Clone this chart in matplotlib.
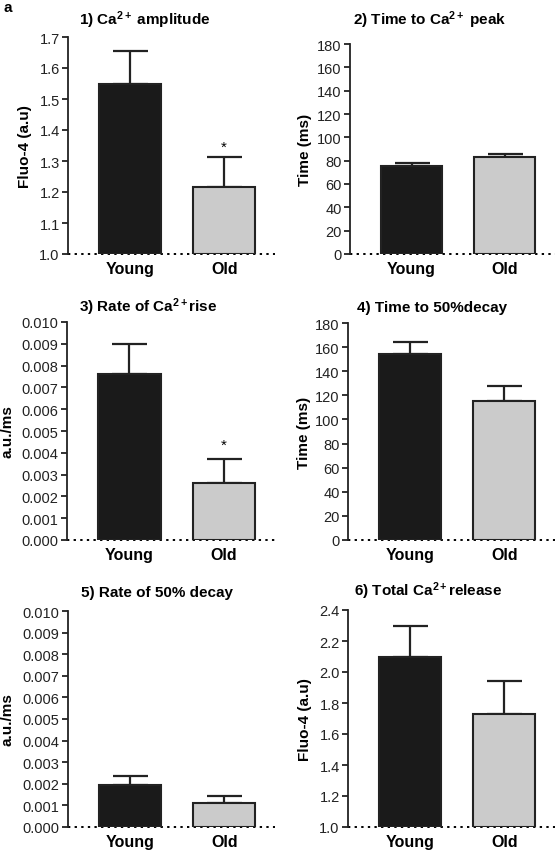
import matplotlib
matplotlib.use("Agg")
import matplotlib.pyplot as plt

plt.rcParams['font.family'] = ['Liberation Sans', 'DejaVu Sans']
plt.rcParams['mathtext.fontset'] = 'custom'
plt.rcParams['mathtext.rm'] = 'Liberation Sans'
plt.rcParams['mathtext.bf'] = 'Liberation Sans:bold'
plt.rcParams['mathtext.it'] = 'Liberation Sans:italic'

groups = ["Young", "Old"]

titles = [
    r"1) Ca$^{\mathbf{2+}}$ amplitude",
    r"2) Time to Ca$^{\mathbf{2+}}$ peak",
    r"3) Rate of Ca$^{\mathbf{2+}}$rise",
    r"4) Time to 50%decay",
    r"5) Rate of 50% decay",
    r"6) Total Ca$^{\mathbf{2+}}$release",
]
ylabels = ["Fluo-4 (a.u)", "Time (ms)", "a.u./ms", "Time (ms)", "a.u./ms", "Fluo-4 (a.u)"]

means = [
    [1.55, 1.217],
    [75.5, 83.0],
    [0.0076, 0.0026],
    [154.5, 115.0],
    [0.00195, 0.0011],
    [2.10, 1.73],
]
err_top = [
    [1.655, 1.312],
    [78.0, 85.7],
    [0.0090, 0.0037],
    [164.0, 128.0],
    [0.00238, 0.00142],
    [2.30, 1.94],
]
baselines = [1.0, 0, 0, 0, 0, 1.0]
ymax = [1.7, 180, 0.010, 180, 0.010, 2.4]
yticks = [
    [1.0, 1.1, 1.2, 1.3, 1.4, 1.5, 1.6, 1.7],
    [0, 20, 40, 60, 80, 100, 120, 140, 160, 180],
    [0.000, 0.001, 0.002, 0.003, 0.004, 0.005, 0.006, 0.007, 0.008, 0.009, 0.010],
    [0, 20, 40, 60, 80, 100, 120, 140, 160, 180],
    [0.000, 0.001, 0.002, 0.003, 0.004, 0.005, 0.006, 0.007, 0.008, 0.009, 0.010],
    [1.0, 1.2, 1.4, 1.6, 1.8, 2.0, 2.2, 2.4],
]
ytick_fmt = ["{:.1f}", "{:.0f}", "{:.3f}", "{:.0f}", "{:.3f}", "{:.1f}"]
star_y = [1.345, None, 0.00436, None, None, None]

W, H = 557, 853
fig = plt.figure(figsize=(W / 100, H / 100), dpi=100)

# pixel boxes: left, top, right, bottom
boxes = [
    (68, 38, 275, 255),
    (350, 45, 555, 255),
    (67, 323, 275, 541),
    (348, 324, 555, 541),
    (68, 612, 275, 828),
    (348, 611, 555, 828),
]
title_pos = [(145, 20), (430, 20), (148, 307), (432, 308), (157, 593), (428, 591)]
ylabel_x = [32, 312, 15, 311, 15, 312]

young_col = "#1a1a1a"
old_col = "#cbcbcb"
edge = "#222222"

for i in range(6):
    l, t, r, b = boxes[i]
    ax = fig.add_axes([l / W, 1 - b / H, (r - l) / W, (b - t) / H])
    base = baselines[i]
    x = [0, 1]
    heights = [m - base for m in means[i]]
    ax.axhline(base, color="black", linestyle=(0, (1.2, 2.2)), linewidth=1.4, zorder=1, clip_on=False)
    ax.bar(x, heights, bottom=base, width=0.66, color=[young_col, old_col],
           edgecolor=edge, linewidth=1.5, zorder=3)
    for j in range(2):
        ax.errorbar(x[j], means[i][j], yerr=[[0], [err_top[i][j] - means[i][j]]],
                    fmt="none", ecolor=edge, elinewidth=1.6, capsize=12.6, capthick=1.6, zorder=2)
    ax.set_xlim(-0.66, 1.54)
    ax.set_ylim(base, ymax[i])
    for s in ["top", "right", "bottom"]:
        ax.spines[s].set_visible(False)
    ax.spines["left"].set_linewidth(1.3)
    ax.spines["left"].set_color("#222222")
    ax.set_yticks(yticks[i])
    ax.set_yticklabels([ytick_fmt[i].format(v) for v in yticks[i]], fontsize=10.5, color="#222222")
    ax.tick_params(axis="y", direction="out", length=4, width=1.3, pad=2, color="#222222")
    ax.set_xticks(x)
    ax.set_xticklabels(groups, fontsize=11.5, fontweight="bold")
    ax.tick_params(axis="x", length=0, pad=5)
    ax.set_ylabel(ylabels[i], fontsize=11, fontweight="bold")
    ax.yaxis.set_label_coords((ylabel_x[i] - l) / (r - l), 0.5)
    if star_y[i] is not None:
        ax.text(1, star_y[i], "*", ha="center", va="center", fontsize=11)
    tx, ty = title_pos[i]
    fig.text(tx / W, 1 - ty / H, titles[i], ha="center", va="center",
             fontsize=11, fontweight="bold")

fig.text(3 / W, 1 - 8 / H, "a", ha="left", va="center", fontsize=11, fontweight="bold")

fig.savefig("out.png", dpi=100)
